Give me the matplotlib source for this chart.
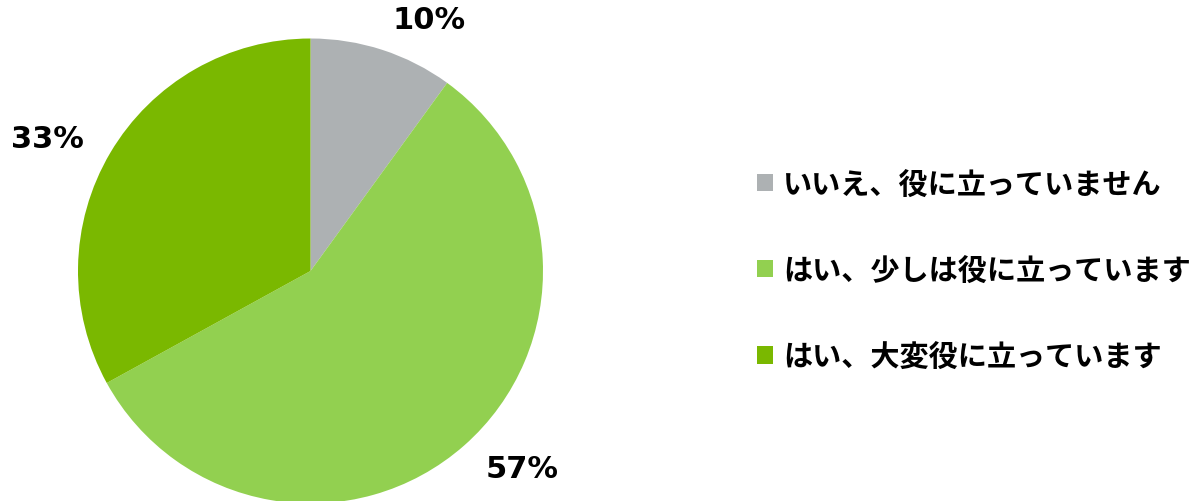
import matplotlib
matplotlib.use('Agg')
import matplotlib.pyplot as plt

labels = ['いいえ、役に立っていません', 'はい、少しは役に立っています', 'はい、大変役に立っています']
values = [10, 57, 33]
colors = ['#ADB1B3', '#92D050', '#7AB800']
# where the percentage labels sit (data units, pie radius = 1), like Excel's best fit
label_xy = [(0.51, 1.08), (0.91, -0.85), (-1.13, 0.57)]

plt.rcParams['font.family'] = ['Noto Sans CJK JP', 'DejaVu Sans']

W, H = 1195, 502
fig = plt.figure(figsize=(W / 100, H / 100), dpi=100)

# pie centre ~ (310, 272) px from top-left, radius ~232 px
r = 232.5
cx, cy = 310.5, H - 272
ax = fig.add_axes([(cx - r) / W, (cy - r) / H, 2 * r / W, 2 * r / H])

wedges, texts, autotexts = ax.pie(
    values, colors=colors, startangle=90, counterclock=False,
    autopct='%d%%', pctdistance=1.24, radius=1.0,
    wedgeprops=dict(linewidth=0),
    textprops=dict(fontsize=22, fontweight='bold', family='DejaVu Sans', color='black'))
for t, xy in zip(autotexts, label_xy):
    t.set_position(xy)
ax.set_xlim(-1, 1)
ax.set_ylim(-1, 1)
ax.set_aspect('equal')
ax.axis('off')

fig.legend(wedges, labels, loc='center left',
           bbox_to_anchor=(757 / W, 1 - 271 / H),
           frameon=False,
           prop=dict(family=['Noto Sans CJK JP', 'DejaVu Sans'], weight='bold', size=21),
           handlelength=0.55, handleheight=0.55, handletextpad=0.34,
           labelspacing=1.93, borderpad=0, borderaxespad=0)

fig.savefig('out.png', dpi=100)
